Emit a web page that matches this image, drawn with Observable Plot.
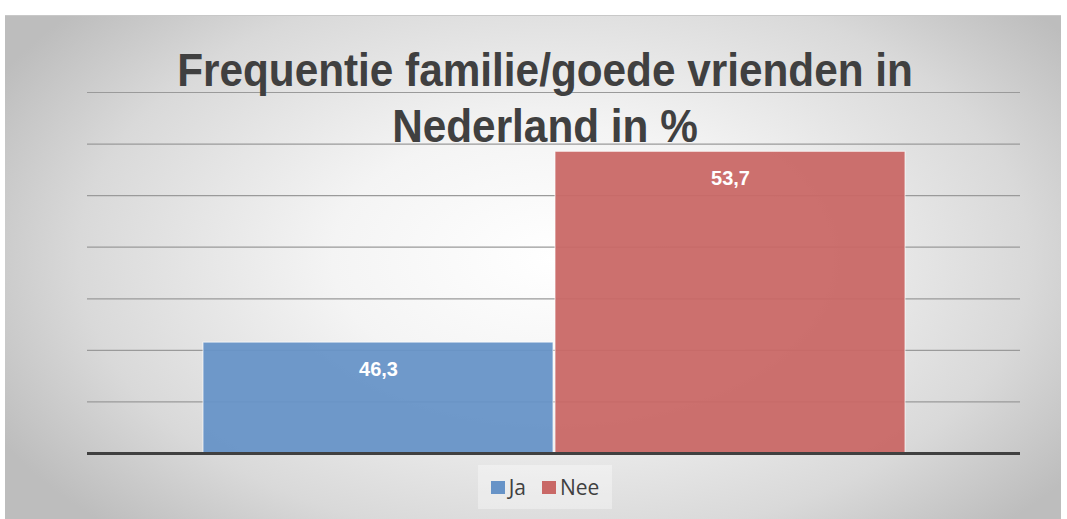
<!DOCTYPE html>
<html>
<head>
<meta charset="utf-8">
<script src="https://cdn.jsdelivr.net/npm/d3@7"></script>
<script src="https://cdn.jsdelivr.net/npm/@observablehq/plot@0.6"></script>
<style>
  html, body { margin: 0; padding: 0; background: #ffffff; }
  #wrap { position: relative; width: 1067px; height: 519px; overflow: hidden; background: #ffffff; }
  #bg { position: absolute; left: 5px; top: 15px; width: 1056px; height: 504px;
        background: radial-gradient(ellipse 60% 75% at 52% 48%, #ffffff 0%, #f4f4f4 35%, #d9d9d9 75%, #bdbdbd 100%);
        border-top: 1px solid #c8c8c8; }
  #chart { position: absolute; left: 0; top: 0; }
  #title { position: absolute; left: 0; width: 1090px; top: 42px; text-align: center;
           font-family: "Liberation Sans", sans-serif; font-weight: bold;
           font-size: 47px; line-height: 56px; color: #404040; pointer-events: none;
           transform: scaleX(0.9); transform-origin: 545px 0; }
  #legend { position: absolute; left: 478px; top: 465px; width: 134px; height: 44px;
            background: rgba(255,255,255,0.35); font-family: "Open Sans", "Liberation Sans", sans-serif;
            font-size: 21px; color: #404040; display: flex; align-items: center; justify-content: center; gap: 16px; }
  .item { display: flex; align-items: center; gap: 4px; }
  .sw { width: 14px; height: 13px; display: inline-block; }
</style>
</head>
<body>
<div id="wrap">
  <div id="bg"></div>
  <div id="chart"></div>
  <div id="title">Frequentie familie/goede vrienden in<br>Nederland in %</div>
  <div id="legend"></div>
</div>
<script>
const categories = ["Ja", "Nee"];
const values = [46.3, 53.7];
const colors = ["#6793c7", "#c96866"];
const yDomain = [42, 56];
const gridTicks = [44, 46, 48, 50, 52, 54, 56];

const data = categories.map((c, i) => ({cat: c, value: values[i], base: yDomain[0]}));
const fmt = v => v.toFixed(1).replace(".", ",");

const chart = Plot.plot({
  width: 1067,
  height: 519,
  marginLeft: 87,
  marginRight: 47,
  marginTop: 92,
  marginBottom: 66,
  style: {background: "transparent"},
  x: {domain: categories, type: "band", paddingInner: 0, paddingOuter: 0.3235, axis: null},
  y: {domain: yDomain, axis: null},
  color: {domain: categories, range: colors},
  marks: [
    Plot.ruleY(gridTicks, {stroke: "#9a9a9a", strokeWidth: 1.2}),
    Plot.barY(data, {x: "cat", y1: "base", y2: "value", fill: "cat", fillOpacity: 0.95,
                     stroke: "#ffffff", strokeOpacity: 0.7, strokeWidth: 1, insetLeft: 1, insetRight: 1}),
    Plot.ruleY([yDomain[0]], {stroke: "#404040", strokeWidth: 3}),
    Plot.text(data, {x: "cat", y: "value", text: d => fmt(d.value), dy: 27, fill: "#ffffff",
                     fontSize: 20, fontWeight: "bold", fontFamily: "Liberation Sans, sans-serif"})
  ]
});
document.getElementById("chart").appendChild(chart);

const legend = document.getElementById("legend");
categories.forEach((c, i) => {
  const it = document.createElement("div");
  it.className = "item";
  it.innerHTML = `<span class="sw" style="background:${colors[i]}"></span><span>${c}</span>`;
  legend.appendChild(it);
});
</script>
</body>
</html>
